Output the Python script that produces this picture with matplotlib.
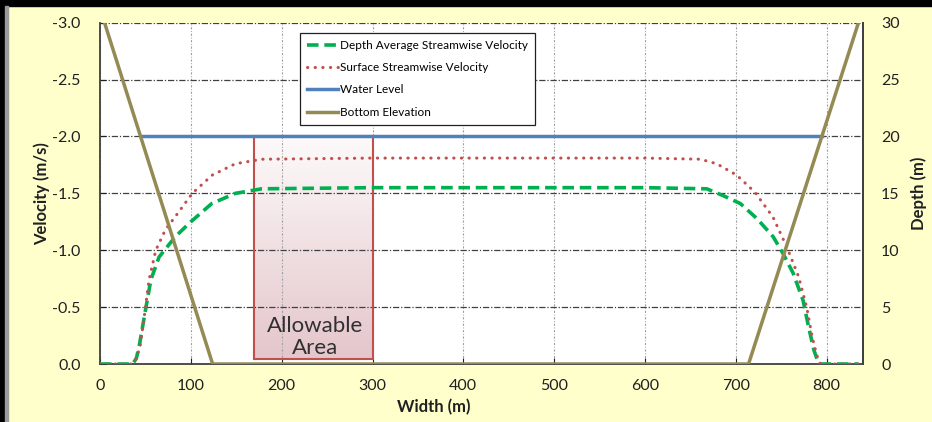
import matplotlib
matplotlib.use("Agg")
import matplotlib.pyplot as plt
import numpy as np
from matplotlib.patches import Rectangle
from matplotlib.ticker import FormatStrFormatter, MultipleLocator

plt.rcParams["font.family"] = ["Lato", "DejaVu Sans"]

# Depth averaged streamwise velocity across the section (m/s, negative = downstream)
depth_avg_x = [0, 15, 30, 36, 40, 43, 50, 56, 65, 83, 100, 123, 149, 178, 300, 450,
               600, 668, 686, 705, 723, 741, 752, 763, 774, 780, 786, 790, 793, 810, 835]
depth_avg_v = [0, 0, 0, 0, -0.05, -0.15, -0.47, -0.74, -0.94, -1.12, -1.25, -1.41, -1.50,
               -1.54, -1.55, -1.55, -1.55, -1.54, -1.48, -1.41, -1.28, -1.12, -0.97, -0.80,
               -0.56, -0.33, -0.12, -0.03, 0, 0, 0]

# Surface streamwise velocity (m/s)
surface_x = [0, 15, 30, 36, 40, 44, 48.6, 54, 61.4, 72, 87, 101.6, 123.5, 149, 178, 300,
             450, 600, 661, 679, 701, 721, 741, 756, 769, 778, 784, 789, 793, 810, 835]
surface_v = [0, 0, 0, 0, -0.05, -0.15, -0.41, -0.74, -1.0, -1.18, -1.34, -1.50, -1.66,
             -1.76, -1.80, -1.81, -1.81, -1.81, -1.80, -1.76, -1.66, -1.51, -1.29, -1.03,
             -0.77, -0.50, -0.24, -0.08, 0, 0, 0]

# Water level and channel bed (depth axis, m)
water_x = [45, 795]
water_depth = [20, 20]
bottom_x = [5, 124, 714, 835]
bottom_depth = [30, 0, 0, 30]

# Allowable area (width range and velocity range)
allow_x = [170, 300]
allow_v = [-0.04, -2.0]

fig = plt.figure(figsize=(9.32, 4.22), dpi=100, facecolor="#FFFFCC")
ax = fig.add_axes([100 / 932, 1 - 364 / 422, 763 / 932, 341.3 / 422])
ax.set_facecolor("white")

# shaded allowable area with a soft vertical gradient
top_c = np.array([253, 250, 250]) / 255
bot_c = np.array([228, 198, 203]) / 255
t = np.linspace(0, 1, 100)[:, None]
grad = (top_c * (1 - t) + bot_c * t)[:, None, :]
ax.imshow(grad, extent=(allow_x[0], allow_x[1], allow_v[0], allow_v[1]),
          origin="upper", aspect="auto", zorder=0.5, interpolation="bilinear")
ax.add_patch(Rectangle((allow_x[0], allow_v[0]), allow_x[1] - allow_x[0],
                       allow_v[1] - allow_v[0], fill=False, ec="#C0504D", lw=1.5,
                       zorder=2.5))
ax.text(sum(allow_x) / 2 + 2, -0.05, "Allowable\nArea", ha="center", va="bottom",
        fontsize=16, color="#303030", linespacing=1.15, zorder=3)

l1, = ax.plot(depth_avg_x, depth_avg_v, color="#00B050", lw=2.6,
              ls=(0, (3.2, 1.6)), label="Depth Average Streamwise Velocity", zorder=3)
l2, = ax.plot(surface_x, surface_v, color="#C0504D", lw=2.2, ls=(0, (0.1, 2.4)),
              dash_capstyle="round", label="Surface Streamwise Velocity", zorder=3)

ax.set_xlim(0, 840)
ax.set_ylim(0, -3)
ax.xaxis.set_major_locator(MultipleLocator(100))
ax.yaxis.set_major_locator(MultipleLocator(0.5))
ax.yaxis.set_major_formatter(FormatStrFormatter("%.1f"))
ax.grid(axis="y", color="#404040", lw=0.9, ls=(0, (5, 1.5, 1, 1.5)))
ax.grid(axis="x", color="#A0A0A0", lw=0.8, ls=(0, (2, 1.5, 0.8, 1.5)))
ax.tick_params(direction="in", length=4, labelsize=11.5, colors="#202020", pad=11)
ax.tick_params(axis="y", pad=14)
for side in ["left", "bottom", "right"]:
    ax.spines[side].set_color("#404040")
    ax.spines[side].set_linewidth(1.3)
ax.spines["top"].set_visible(False)

ax2 = ax.twinx()
l3, = ax2.plot(water_x, water_depth, color="#4F81BD", lw=2.5, label="Water Level")
l4, = ax2.plot(bottom_x, bottom_depth, color="#948A54", lw=2.5, label="Bottom Elevation")
ax2.set_ylim(0, 30)
ax2.yaxis.set_major_locator(MultipleLocator(5))
ax2.tick_params(direction="in", length=0, labelsize=11.5, colors="#202020", pad=13)
ax2.spines["right"].set_color("#404040")
ax2.spines["right"].set_linewidth(1.3)
ax2.spines["top"].set_visible(False)
ax2.spines["left"].set_visible(False)
ax2.spines["bottom"].set_visible(False)

ax.set_xlabel("Width (m)", fontsize=12, fontweight="bold", color="#202020")
ax.set_ylabel("Velocity (m/s)", fontsize=12, fontweight="bold", color="#202020")
ax2.set_ylabel("Depth (m)", fontsize=12, fontweight="bold", color="#202020")
ax.xaxis.set_label_coords(0.438, -0.103)
ax.yaxis.set_label_coords(-0.0655, 0.5)
ax2.yaxis.set_label_coords(1.0616, 0.5)

leg = ax2.legend(handles=[l1, l2, l3, l4], loc="upper left",
                 bbox_to_anchor=(0.262, 0.97), fontsize=8.5, frameon=True,
                 fancybox=False, edgecolor="#202020", framealpha=1,
                 handlelength=2.6, handletextpad=0.2, labelspacing=0.95,
                 borderpad=0.6, borderaxespad=0)
leg.get_frame().set_linewidth(0.9)

# dark frame along the top and left edges
fig.patches.append(Rectangle((0, 1 - 6 / 422), 1, 6 / 422, transform=fig.transFigure,
                             color="black", zorder=10))
fig.patches.append(Rectangle((0, 0), 5 / 932, 1, transform=fig.transFigure,
                             color="black", zorder=10))
fig.patches.append(Rectangle((5 / 932, 0), 3 / 932, 1 - 6 / 422, transform=fig.transFigure,
                             color="#9A9A9A", zorder=10))

fig.savefig("out.png", dpi=100, facecolor=fig.get_facecolor())
